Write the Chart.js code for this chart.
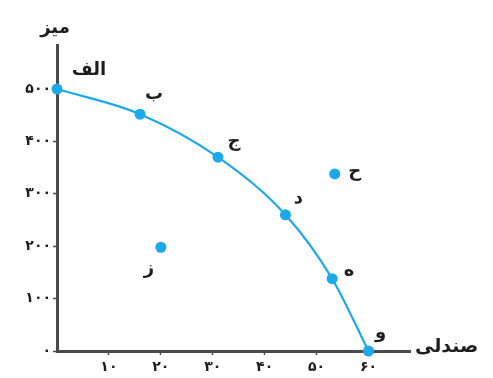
<!DOCTYPE html>
<html>
<head>
<meta charset="utf-8">
<script src="https://cdn.jsdelivr.net/npm/chart.js@4"></script>
<style>
  html, body { margin: 0; padding: 0; background: #fff; }
  #wrap { width: 493px; height: 378px; position: relative; }
</style>
</head>
<body>
<div id="wrap"><canvas id="ppf"></canvas></div>
<script>
// نقاط روی منحنی امکانات تولید
const curveNames = ['الف', 'ب', 'ج', 'د', 'ه', 'و'];
const curveChairs = [0, 16, 31, 44, 53, 60];
const curveTables = [500, 452, 370, 260, 138, 0];

// نقاط خارج از منحنی
const otherNames = ['ح', 'ز'];
const otherChairs = [53.5, 20];
const otherTables = [338, 198];

const xTicks = [10, 20, 30, 40, 50, 60];
const yTicks = [0, 100, 200, 300, 400, 500];

const blue = '#1ba9e9';
const axisColor = '#4a4a4a';
const faFont = '"DejaVu Sans", sans-serif';

function toPersian(n) {
    return String(n).replace(/\d/g, d => '۰۱۲۳۴۵۶۷۸۹'[d]);
}

// label offsets in px, just for placing the letters next to the dots
const curveOffsets = [[32, -19], [14, -20], [16, -16], [13, -16], [17, -7], [12, -18]];
const otherOffsets = [[20, -2], [-12, 22]];

const pointLabels = {
    id: 'pointLabels',
    afterDatasetsDraw(chart) {
        const ctx = chart.ctx;
        ctx.save();
        ctx.fillStyle = '#1e1e1e';
        ctx.font = 'bold 18px ' + faFont;
        ctx.textAlign = 'center';
        ctx.textBaseline = 'middle';
        [[curveNames, curveOffsets], [otherNames, otherOffsets]].forEach((set, i) => {
            const meta = chart.getDatasetMeta(i);
            meta.data.forEach((pt, j) => {
                ctx.fillText(set[0][j], pt.x + set[1][j][0], pt.y + set[1][j][1]);
            });
        });

        // axis titles
        const area = chart.chartArea;
        ctx.font = 'bold 18px ' + faFont;
        ctx.fillText('میز', area.left - 2, area.top - 17);
        ctx.textAlign = 'left';
        ctx.font = 'bold 19px ' + faFont;
        ctx.fillText('صندلی', area.right + 5, area.bottom - 4);
        ctx.restore();
    }
};

const curveData = curveChairs.map((x, i) => ({ x: x, y: curveTables[i] }));
const otherData = otherChairs.map((x, i) => ({ x: x, y: otherTables[i] }));

new Chart(document.getElementById('ppf'), {
    type: 'scatter',
    data: {
        datasets: [
            {
                data: curveData,
                showLine: true,
                borderColor: blue,
                borderWidth: 2.2,
                backgroundColor: blue,
                pointRadius: 5.5,
                pointBorderWidth: 0,
                cubicInterpolationMode: 'monotone',
                clip: false
            },
            {
                data: otherData,
                showLine: false,
                backgroundColor: blue,
                pointRadius: 5.5,
                pointBorderWidth: 0,
                clip: false
            }
        ]
    },
    options: {
        responsive: true,
        maintainAspectRatio: false,
        animation: false,
        layout: { padding: { left: 0, top: 45, right: 83, bottom: 0 } },
        plugins: {
            legend: { display: false },
            tooltip: { enabled: false }
        },
        scales: {
            x: {
                type: 'linear',
                min: 0,
                max: 68,
                afterBuildTicks: axis => { axis.ticks = xTicks.map(v => ({ value: v })); },
                afterFit: axis => { axis.height = 27; },
                grid: {
                    drawOnChartArea: false,
                    drawTicks: true,
                    tickLength: 4,
                    tickColor: axisColor,
                    tickWidth: 1.5
                },
                border: { color: axisColor, width: 3 },
                ticks: {
                    color: '#1e1e1e',
                    padding: 4,
                    maxRotation: 0,
                    font: { family: faFont, size: 14, weight: 'bold' },
                    callback: v => toPersian(v)
                }
            },
            y: {
                type: 'linear',
                min: 0,
                max: 584,
                afterBuildTicks: axis => { axis.ticks = yTicks.map(v => ({ value: v })); },
                afterFit: axis => { axis.width = 57; },
                grid: {
                    drawOnChartArea: false,
                    drawTicks: true,
                    tickLength: 4,
                    tickColor: axisColor,
                    tickWidth: 1.5
                },
                border: { color: axisColor, width: 3 },
                ticks: {
                    color: '#1e1e1e',
                    padding: 2,
                    font: { family: faFont, size: 14, weight: 'bold' },
                    callback: v => toPersian(v)
                }
            }
        }
    },
    plugins: [pointLabels]
});
</script>
</body>
</html>
